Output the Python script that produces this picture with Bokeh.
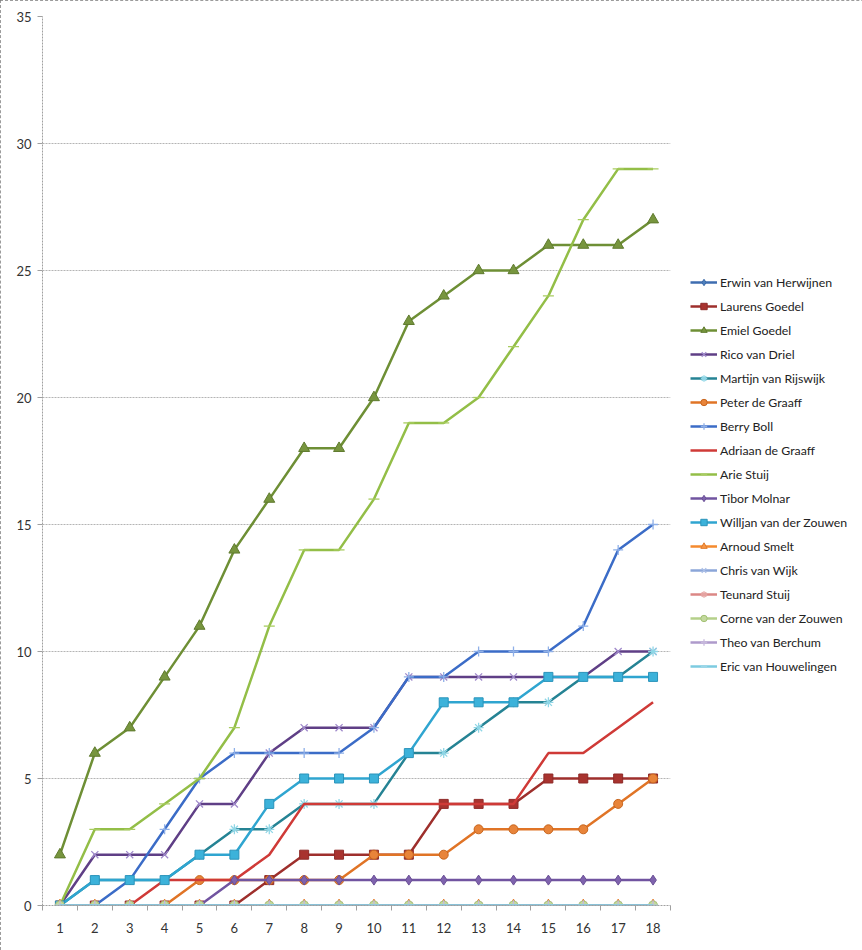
from bokeh.plotting import figure
from bokeh.models import Legend, LegendItem, FixedTicker, Range1d
from bokeh.embed import file_html
from bokeh.resources import INLINE

rounds = list(range(1, 19))
y_ticks = [0, 5, 10, 15, 20, 25, 30, 35]

erwin_van_herwijnen = [0, 0, 0, 0, 0, 0, 0, 0, 0, 0, 0, 0, 0, 0, 0, 0, 0, 0]
laurens_goedel = [0, 0, 0, 0, 0, 0, 1, 2, 2, 2, 2, 4, 4, 4, 5, 5, 5, 5]
emiel_goedel = [2, 6, 7, 9, 11, 14, 16, 18, 18, 20, 23, 24, 25, 25, 26, 26, 26, 27]
rico_van_driel = [0, 2, 2, 2, 4, 4, 6, 7, 7, 7, 9, 9, 9, 9, 9, 9, 10, 10]
martijn_van_rijswijk = [0, 1, 1, 1, 2, 3, 3, 4, 4, 4, 6, 6, 7, 8, 8, 9, 9, 10]
peter_de_graaff = [0, 0, 0, 0, 1, 1, 1, 1, 1, 2, 2, 2, 3, 3, 3, 3, 4, 5]
berry_boll = [0, 0, 1, 3, 5, 6, 6, 6, 6, 7, 9, 9, 10, 10, 10, 11, 14, 15]
adriaan_de_graaff = [0, 0, 0, 1, 1, 1, 2, 4, 4, 4, 4, 4, 4, 4, 6, 6, 7, 8]
arie_stuij = [0, 3, 3, 4, 5, 7, 11, 14, 14, 16, 19, 19, 20, 22, 24, 27, 29, 29]
tibor_molnar = [0, 0, 0, 0, 0, 1, 1, 1, 1, 1, 1, 1, 1, 1, 1, 1, 1, 1]
willjan_van_der_zouwen = [0, 1, 1, 1, 2, 2, 4, 5, 5, 5, 6, 8, 8, 8, 9, 9, 9, 9]
arnoud_smelt = [0, 0, 0, 0, 0, 0, 0, 0, 0, 0, 0, 0, 0, 0, 0, 0, 0, 0]
chris_van_wijk = [0, 0, 0, 0, 0, 0, 0, 0, 0, 0, 0, 0, 0, 0, 0, 0, 0, 0]
teunard_stuij = [0, 0, 0, 0, 0, 0, 0, 0, 0, 0, 0, 0, 0, 0, 0, 0, 0, 0]
corne_van_der_zouwen = [0, 0, 0, 0, 0, 0, 0, 0, 0, 0, 0, 0, 0, 0, 0, 0, 0, 0]
theo_van_berchum = [0, 0, 0, 0, 0, 0, 0, 0, 0, 0, 0, 0, 0, 0, 0, 0, 0, 0]
eric_van_houwelingen = [0, 0, 0, 0, 0, 0, 0, 0, 0, 0, 0, 0, 0, 0, 0, 0, 0, 0]

names = ["Erwin van Herwijnen", "Laurens Goedel", "Emiel Goedel", "Rico van Driel",
         "Martijn van Rijswijk", "Peter de Graaff", "Berry Boll", "Adriaan de Graaff",
         "Arie Stuij", "Tibor Molnar", "Willjan van der Zouwen", "Arnoud Smelt",
         "Chris van Wijk", "Teunard Stuij", "Corne van der Zouwen", "Theo van Berchum",
         "Eric van Houwelingen"]
values = [erwin_van_herwijnen, laurens_goedel, emiel_goedel, rico_van_driel,
          martijn_van_rijswijk, peter_de_graaff, berry_boll, adriaan_de_graaff,
          arie_stuij, tibor_molnar, willjan_van_der_zouwen, arnoud_smelt,
          chris_van_wijk, teunard_stuij, corne_van_der_zouwen, theo_van_berchum,
          eric_van_houwelingen]
# (line color, marker, marker fill, marker line)
styles = [
    ("#3E6DB0", "diamond", "#4F81BD", "#3A68A8"),
    ("#9E2F2C", "square", "#A8332F", "#8E2A28"),
    ("#6E8F35", "triangle", "#77953E", "#5F7A2E"),
    ("#5F3F86", "x", None, "#A08ACB"),
    ("#258394", "asterisk", None, "#8FD6E6"),
    ("#E07426", "circle", "#E8843A", "#C8661E"),
    ("#3B6CC7", "cross", None, "#8FB0E8"),
    ("#CF3A37", None, None, None),
    ("#93BE47", "dash", None, "#A8CC60"),
    ("#7154A0", "diamond", "#7E62AD", "#6A4F96"),
    ("#2FA5D0", "square", "#3CB2DA", "#2A93BA"),
    ("#F58A2E", "triangle", "#F79646", "#E07A2A"),
    ("#8BA6D9", "x", None, "#A9BDE6"),
    ("#DB8785", "asterisk", None, "#E5A3A1"),
    ("#B5D08A", "circle", "#C3D99E", "#A3C174"),
    ("#AE9ACB", "cross", None, "#C6B8DC"),
    ("#7DCBE0", "dash", None, "#9BD7E8"),
]

FONT = "Lato"

p = figure(frame_width=628, frame_height=889, output_backend="svg",
           toolbar_location=None, x_range=Range1d(0.5, 18.5), y_range=Range1d(0, 35),
           min_border_left=42, min_border_right=192, min_border_top=16, min_border_bottom=45)
p.outline_line_color = None
p.background_fill_color = "white"
p.border_fill_color = "white"
p.styles = {"outline": "1px dashed #7a7a7a", "outline-offset": "-1px"}

p.xgrid.grid_line_color = None
p.ygrid.ticker = FixedTicker(ticks=y_ticks)
p.ygrid.grid_line_color = "#b4b4b4"
p.ygrid.grid_line_dash = "2 1"
p.ygrid.grid_line_width = 1

p.yaxis.ticker = FixedTicker(ticks=y_ticks)
p.xaxis.ticker = FixedTicker(ticks=rounds, minor_ticks=[r - 0.5 for r in rounds] + [18.5])
for ax in (p.xaxis[0], p.yaxis[0]):
    ax.axis_line_color = "#a0a0a0"
    ax.axis_line_dash = "2 1"
    ax.major_label_text_font = FONT
    ax.major_label_text_font_size = "13px"
    ax.major_label_text_color = "#333333"
p.yaxis.major_tick_line_color = "#a0a0a0"
p.yaxis.major_tick_out = 5
p.yaxis.major_tick_in = 0
p.yaxis.minor_tick_line_color = None
p.yaxis.major_label_standoff = 6
p.xaxis.major_tick_line_color = None
p.xaxis.minor_tick_line_color = "#a0a0a0"
p.xaxis.minor_tick_out = 5
p.xaxis.minor_tick_in = 0
p.xaxis.major_label_standoff = 11

items = []
for name, vals, (lc, mk, mf, ml) in zip(names, values, styles):
    rs = [p.line(rounds, vals, line_color=lc, line_width=2.5)]
    if mk is not None:
        if mf is None:
            rs.append(p.scatter(rounds, vals, marker=mk, size=10 if mk != "dash" else 11,
                                line_color=ml, line_width=1.3, fill_color=None))
        else:
            sz = 11 if mk == "triangle" else (10 if mk == "diamond" else 9)
            rs.append(p.scatter(rounds, vals, marker=mk, size=sz,
                                fill_color=mf, line_color=ml, line_width=1))
    items.append(LegendItem(label=name, renderers=rs))

legend = Legend(items=items, location=(20, 231), orientation="vertical",
                glyph_width=27, glyph_height=16, label_height=16, spacing=8,
                label_standoff=3, padding=0, margin=0,
                border_line_color=None, background_fill_alpha=0,
                label_text_font=FONT, label_text_font_size="12.3px",
                label_text_color="#222222")
p.add_layout(legend, "right")

open("out.html", "w").write(file_html(p, INLINE))
